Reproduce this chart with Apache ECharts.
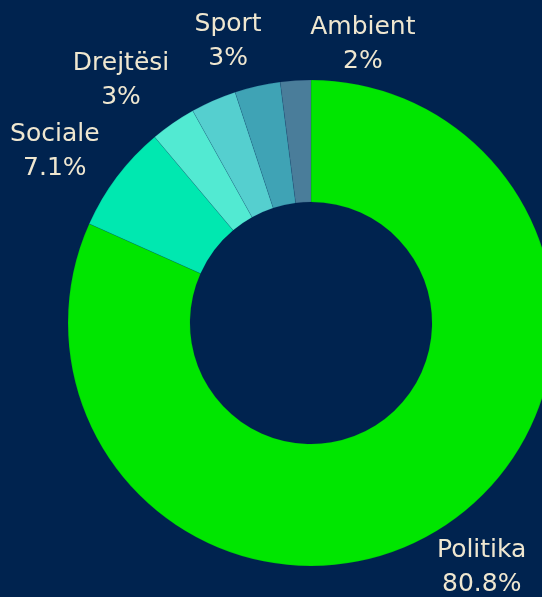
<!DOCTYPE html>
<html>
<head>
<meta charset="utf-8">
<style>
  html, body { margin: 0; padding: 0; background: #00234f; }
  #chart { width: 542px; height: 597px; }
</style>
<script src="https://cdn.jsdelivr.net/npm/echarts@6/dist/echarts.min.js"></script>
</head>
<body>
<div id="chart"></div>
<script>
// Topic shares (percent), clockwise from the top
const categories = ['Politika', 'Sociale', 'Drejtësi', 'Ekonomi', 'Sport', 'Ambient'];
const shares = [80.8, 7.1, 3, 3, 3, 2];
const colors = ['#00e600', '#00e8b0', '#52ead2', '#55cfcf', '#3fa3b5', '#4a7d9a'];
// Slices whose label is left off to keep the top row readable
const hiddenLabels = ['Ekonomi'];

// Ring geometry
const CX = 311, CY = 323, R_IN = 121, R_OUT = 243;
// Label anchor: turn (degrees) from the slice middle and distance from the centre
const labelPlace = {
  Politika: { turn: -2, r: 298 },
  Sociale:  { turn: -3.3, r: 308 },
  'Drejtësi': { turn: -3.5, r: 308 },
  Sport:    { turn: -3.7, r: 293 },
  Ambient:  { turn: 14.2, r: 283 }
};

const total = shares.reduce((a, b) => a + b, 0);
const midAngles = [];
let acc = 0;
shares.forEach(v => {
  const span = v / total * 360;
  midAngles.push(acc + span / 2);
  acc += span;
});

const chart = echarts.init(document.getElementById('chart'));

const data = categories.map((name, i) => ({
  name,
  value: shares[i],
  itemStyle: { color: colors[i] },
  label: { show: !hiddenLabels.includes(name) }
}));

chart.setOption({
  backgroundColor: '#00234f',
  animation: false,
  series: [{
    type: 'pie',
    center: [CX, CY],
    radius: [R_IN, R_OUT],
    startAngle: 90,
    clockwise: true,
    avoidLabelOverlap: false,
    itemStyle: { borderColor: 'rgba(0,35,79,0.25)', borderWidth: 0.5 },
    label: {
      show: true,
      position: 'outside',
      color: '#efe7d0',
      fontFamily: '"DejaVu Sans", sans-serif',
      fontSize: 25,
      lineHeight: 34,
      formatter: p => p.name + '\n' + p.value + '%'
    },
    labelLine: { show: false },
    labelLayout: params => {
      const i = params.dataIndex;
      const place = labelPlace[categories[i]] || { turn: 0, r: 300 };
      const rad = (midAngles[i] + place.turn) * Math.PI / 180;
      return {
        x: CX + place.r * Math.sin(rad),
        y: CY - place.r * Math.cos(rad),
        align: 'center',
        verticalAlign: 'middle'
      };
    },
    data
  }]
});
</script>
</body>
</html>
